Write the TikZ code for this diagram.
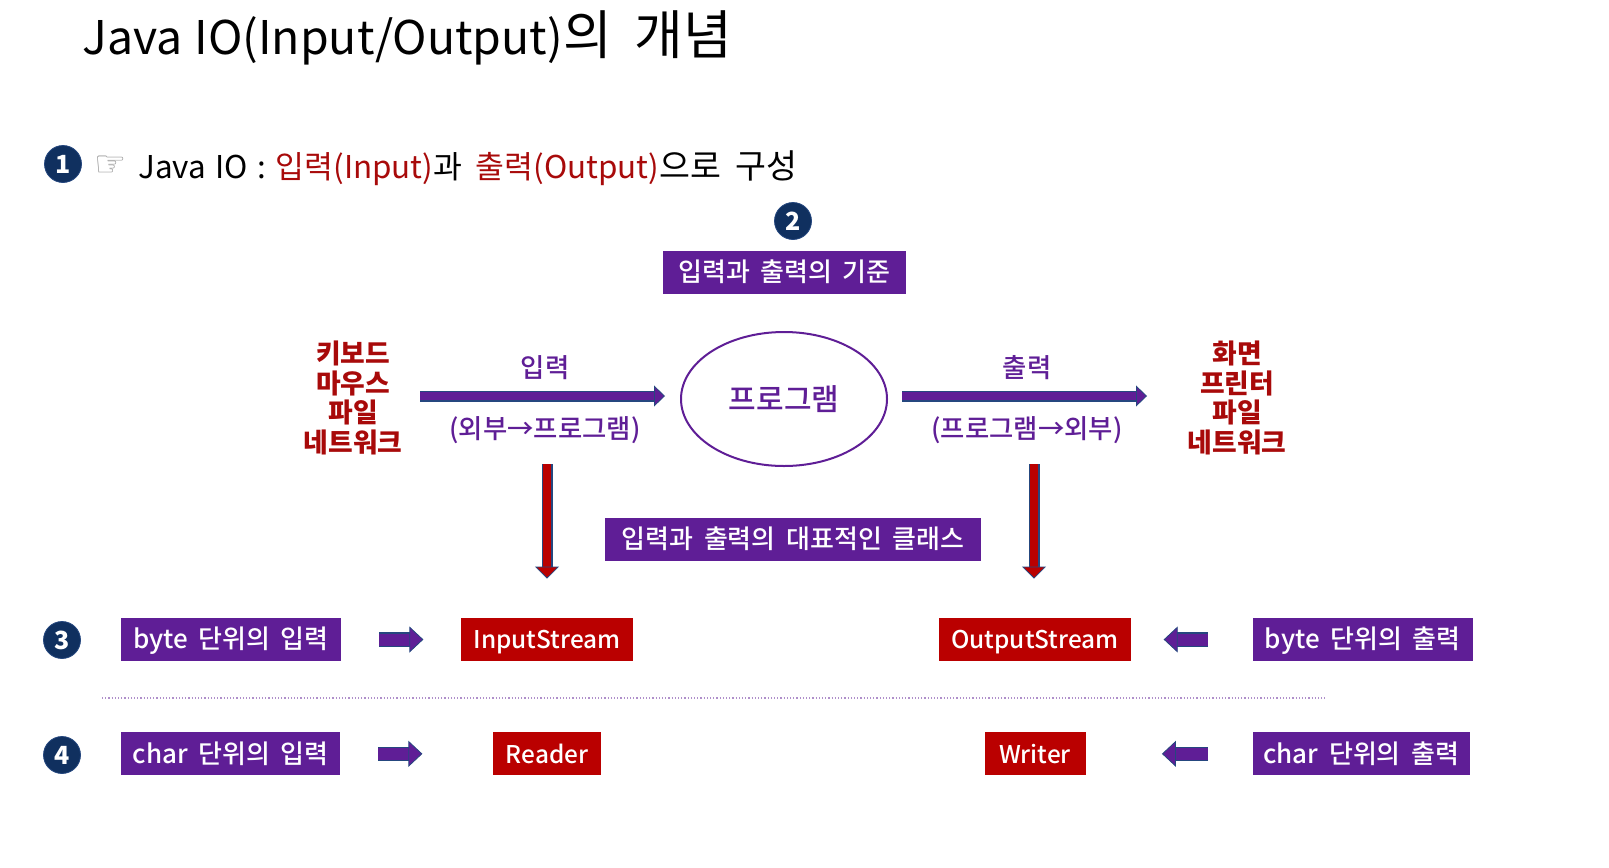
\documentclass[tikz,border=0pt]{standalone}
\usepackage{fontspec}
\usepackage{xcolor}
\usepackage{tikz}
\usetikzlibrary{arrows.meta, positioning, shapes.geometric}
\setmainfont[WordSpace=1.9]{Noto Sans CJK KR}
\newfontfamily\medfont[WordSpace=1.8]{Noto Sans CJK KR Medium}
\newfontfamily\handfont{DejaVu Sans}
\definecolor{boxPurple}{HTML}{5F1E96}
\definecolor{boxRed}{HTML}{BA0000}
\definecolor{textRed}{HTML}{A80A0A}
\definecolor{badgeBlue}{HTML}{10305F}
\definecolor{edgeBlue}{HTML}{25477F}
\tikzset{
    purplebox/.style={fill=boxPurple, text=white, font=\medfont\fontsize{13}{15}\selectfont, minimum height=21.5pt, text height=9.4pt, text depth=0pt, inner sep=0pt},
    redbox/.style={fill=boxRed, text=white, font=\medfont\fontsize{12.2}{15}\selectfont, minimum height=21.5pt, text height=9.4pt, text depth=0pt, inner sep=0pt},
    badge/.style={circle, fill=badgeBlue, draw=edgeBlue, text=white, minimum size=18.5pt, inner sep=0pt, font=\fontsize{12.5}{14}\selectfont\bfseries},
    sidetext/.style={text=textRed, align=center, font=\fontsize{13.4}{14.75}\selectfont\bfseries},
    purpletext/.style={text=boxPurple, font=\medfont\fontsize{13.2}{15}\selectfont},
    widearrow/.style={draw=edgeBlue, line width=0.6pt, double=boxPurple, double distance=4.3pt, -{Triangle[length=5.5pt, width=10.5pt, line width=0.4pt, fill=boxPurple]}},
    downarrow/.style={draw=edgeBlue, line width=0.6pt, double=boxRed, double distance=4.3pt, -{Triangle[length=6pt, width=12pt, line width=0.4pt, fill=boxRed]}},
    smallarrow/.style={draw=edgeBlue, line width=0.6pt, double=boxPurple, double distance=6pt, -{Triangle[length=7pt, width=13pt, line width=0.4pt, fill=boxPurple]}}
}
\begin{document}
\begin{tikzpicture}[x=0.5pt, y=-0.5pt]
    \useasboundingbox (0,0) rectangle (1609,867);
    % heading
    \node[anchor=west, inner sep=0pt, font=\fontsize{23.2}{28}\selectfont] (title) at (82,38) {Java\kern 6pt IO(Input/Output){\fontsize{26.5}{28}\selectfont 의 개념}};
    \node[badge] (one) at (63,164) {1};
    \node[anchor=west, inner sep=0pt, text=black!40, font=\handfont\fontsize{18}{20}\selectfont] (hand) at (94,166) {☞};
    \node[anchor=west, inner sep=0pt, font=\fontsize{15.7}{18}\selectfont] (intro) at (138,168) {Java\kern 4.7pt IO\kern 4.7pt:\kern 4.7pt\textcolor{textRed}{입력(Input)}과 \textcolor{textRed}{출력(Output)}{\fontsize{16.8}{18}\selectfont 으로 구성}};
    % centre part
    \node[purplebox, minimum width=121.5pt] (basis) at (784.5,272) {입력과 출력의 기준};
    \node[badge] (two) at (793,221) {2};
    \node[draw=boxPurple, line width=1pt, ellipse, minimum width=103pt, minimum height=67pt, inner sep=0pt, purpletext, font=\medfont\fontsize{15}{17}\selectfont] (program) at (784,399) {프로그램};
    \node[sidetext] (sources) at (353,398) {키보드\\마우스\\파일\\네트워크};
    \node[sidetext] (targets) at (1237,398) {화면\\프린터\\파일\\네트워크};
    \node[purpletext] (inlabel) at (545,368) {입력};
    \node[purpletext] (inpath) at (545,430) {(외부→프로그램)};
    \node[purpletext] (outlabel) at (1027,368) {출력};
    \node[purpletext] (outpath) at (1027,430) {(프로그램→외부)};
    \node[purplebox, minimum width=188pt] (classes) at (793,539.5) {입력과 출력의 대표적인 클래스};
    \coordinate (inA) at (420,396);
    \coordinate (inB) at (665,396);
    \coordinate (outA) at (902,396);
    \coordinate (outB) at (1147,396);
    \draw[widearrow] (inA) -- (inB);
    \draw[widearrow] (outA) -- (outB);
    % rows
    \node[purplebox, minimum width=110pt] (bytein) at (231,639.5) {byte 단위의 입력};
    \node[redbox, minimum width=85.75pt, right=59.75pt of bytein] (instream) {InputStream};
    \node[redbox, minimum width=96.25pt] (outstream) at (1035,639.5) {OutputStream};
    \node[purplebox, minimum width=110pt, right=60.25pt of outstream] (byteout) {byte 단위의 출력};
    \node[purplebox, minimum width=109.5pt, below right=35.25pt and 0pt of bytein.south west] (charin) {char 단위의 입력};
    \node[redbox, minimum width=54.25pt, below=35.25pt of instream] (reader) {Reader};
    \node[redbox, minimum width=50.5pt, below=35.25pt of outstream] (writer) {Writer};
    \node[purplebox, minimum width=108.75pt, below right=35.25pt and 0pt of byteout.south west] (charout) {char 단위의 출력};
    \node[badge] (three) at (62,640) {3};
    \node[badge] (four) at (62,755) {4};
    \coordinate (downA) at (547,464);
    \coordinate (downB) at (1034,464);
    \draw[downarrow, shorten >=19.5pt] (downA) -- (instream.north -| downA);
    \draw[downarrow, shorten >=19.5pt] (downB) -- (outstream.north -| downB);
    \draw[smallarrow, shorten <=19pt, shorten >=18.75pt] (bytein) -- (instream);
    \draw[smallarrow, shorten <=19pt, shorten >=35pt] (charin) -- (charin -| reader.west);
    \draw[smallarrow, shorten <=22pt, shorten >=16pt] (byteout) -- (outstream);
    \draw[smallarrow, shorten <=22pt, shorten >=38pt] (charout) -- (charout -| writer.east);
    \coordinate (ruleA) at (102,698);
    \coordinate (ruleB) at (1325,698);
    \draw[densely dotted, line width=0.6pt, boxPurple!50] (ruleA) -- (ruleB);
\end{tikzpicture}
\end{document}
